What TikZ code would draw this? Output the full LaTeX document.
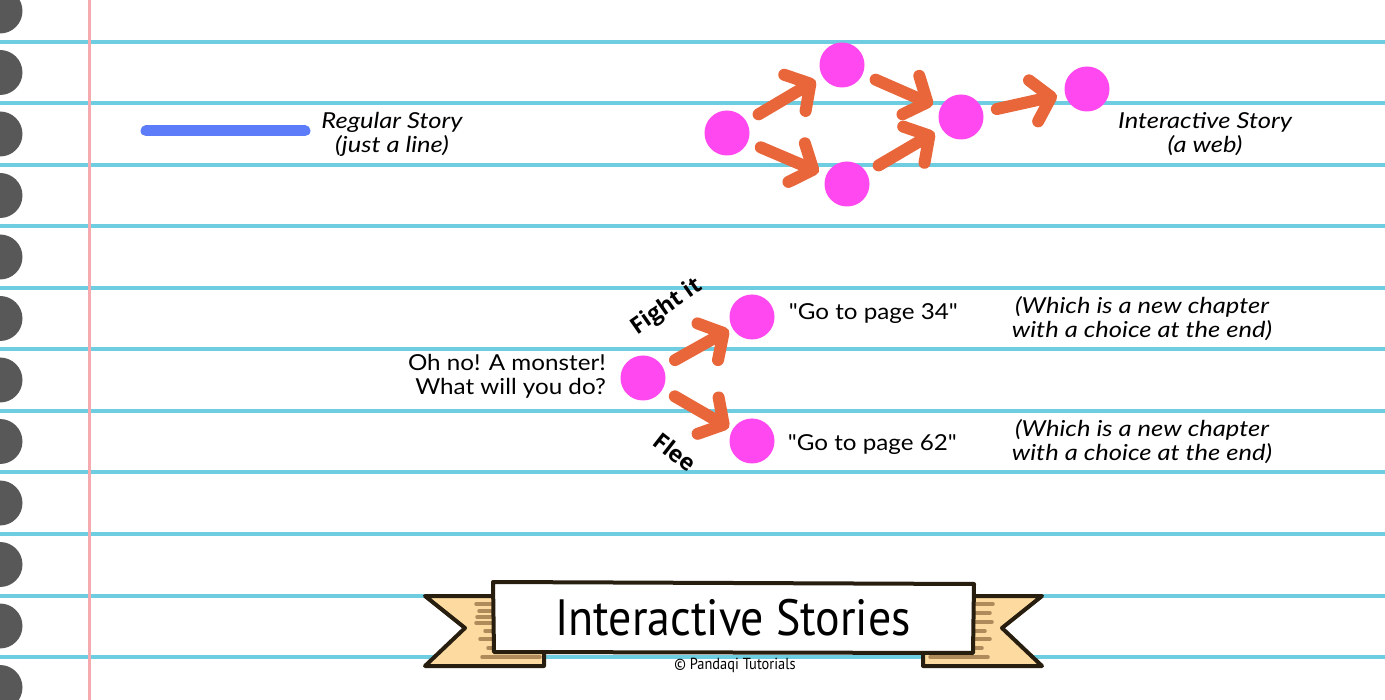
\documentclass[tikz,border=0pt]{standalone}
\usepackage{fontspec}
\setmainfont{Lato}[Ligatures=TeXOff,UprightFeatures={FakeStretch=1.1},ItalicFeatures={FakeStretch=1.16}]
\newfontfamily\titlefont{PT Sans}[FakeStretch=0.9]
\newfontfamily\choicefont{Open Sans}
\usetikzlibrary{arrows.meta,positioning}

\definecolor{ruleblue}{RGB}{110,205,224}
\definecolor{marginred}{RGB}{245,170,175}
\definecolor{holegrey}{RGB}{88,88,88}
\definecolor{dotpink}{RGB}{255,72,240}
\definecolor{arroworange}{RGB}{232,102,58}
\definecolor{lineblue}{RGB}{92,124,250}
\definecolor{bannerbrown}{RGB}{40,30,15}
\definecolor{ribbon}{RGB}{253,218,160}
\definecolor{ribbonstripe}{RGB}{175,138,90}

\tikzset{
  ruleline/.style={draw=ruleblue,line width=4pt},
  marginline/.style={draw=marginred,line width=3pt},
  storydot/.style={circle,fill=dotpink,minimum size=45pt,inner sep=0pt},
  storyarrow/.style={draw=arroworange,line width=12pt,line cap=round,
    -{Straight Barb[length=18pt,width=42pt,round]},shorten <=14pt,shorten >=8pt},
  notetext/.style={font=\fontsize{22}{24}\selectfont\itshape,align=center,inner sep=0pt},
  plaintext/.style={font=\fontsize{22}{24}\selectfont,inner sep=0pt},
  choicetext/.style={font=\fontsize{23}{25}\selectfont\choicefont\bfseries,inner sep=0pt},
  bannerline/.style={draw=bannerbrown,line width=4pt,line join=round},
  stripe/.style={draw=ribbonstripe,line width=3.5pt,line cap=round}
}

\begin{document}
\begin{tikzpicture}[x=1pt,y=-1pt]
\useasboundingbox (0,0) rectangle (1385,700);
\fill[white] (0,0) rectangle (1385,700);

% paper
\foreach \k in {0,...,10}
  \draw[ruleline] (0,{42+61.5*\k}) -- (1385,{42+61.5*\k});
\draw[marginline] (89,0) -- (89,700);
\foreach \k in {0,...,11}
  \fill[holegrey] (0,{11+61.5*\k}) circle (22.5pt);

% regular story
\draw[draw=lineblue,line width=11pt,line cap=round] (146,131) -- (305,131);
\node[notetext] at (392,134.5) (regular) {Regular Story\\(just a line)};

% interactive story
\node[storydot] at (727,133) (w1) {};
\node[storydot] at (842,65) (w2) {};
\node[storydot] at (847,184) (w3) {};
\node[storydot] at (961,117) (w4) {};
\node[storydot] at (1087,89) (w5) {};
\draw[storyarrow] (w1) -- (w2);
\draw[storyarrow] (w1) -- (w3);
\draw[storyarrow] (w2) -- (w4);
\draw[storyarrow] (w3) -- (w4);
\draw[storyarrow] (w4) -- (w5);
\node[notetext] at (1205,134.5) (interactive) {Interactive Story\\(a web)};

% the choice
\node[storydot] at (643,378) (monster) {};
\node[storydot] at (752,317) (fight) {};
\node[storydot] at (752,441) (flee) {};
\draw[storyarrow,shorten >=4pt] (monster) -- (fight);
\draw[storyarrow,shorten >=4pt] (monster) -- (flee);
\node[choicetext,rotate=35] at (667,307) (fightlabel) {Fight it};
\node[choicetext,rotate=-38] at (675,452) (fleelabel) {Flee};
\node[plaintext,align=right,anchor=east] at (606,376) (question) {Oh no! A monster!\\What will you do?};
\node[plaintext,right=14pt of fight,yshift=3pt] (page34) {"Go to page 34"};
\node[plaintext,right=13pt of flee,yshift=-4pt] (page62) {"Go to page 62"};
\node[notetext] at (1142,319) (chapter34) {(Which is a new chapter\\with a choice at the end)};
\node[notetext] at (1142,442) (chapter62) {(Which is a new chapter\\with a choice at the end)};

% banner
\draw[bannerline,fill=ribbon] (500,596) -- (425,596) -- (465,628) -- (425,666) -- (544,666) -- (544,640) -- cycle;
\draw[bannerline,fill=ribbon] (966,596) -- (1042,596) -- (1002,628) -- (1042,666) -- (923,666) -- (923,640) -- cycle;
\foreach \y/\x in {604/476,611/479,617/477,623/476,631/485,639/480,648/488}
  \draw[stripe] (\x,\y) -- (500,\y);
\draw[stripe] (482,657) -- (540,657);
\foreach \y/\x in {604/993,613/990,622/992,631/985,639/990,648/982}
  \draw[stripe] (966,\y) -- (\x,\y);
\draw[stripe] (930,657) -- (988,657);
\draw[bannerline,fill=white] (493,582) -- (974,584) -- (973,653) -- (494,652) -- cycle;
\node[font=\fontsize{51}{51}\selectfont\titlefont,inner sep=0pt] at (733,618) (title) {Interactive Stories};
\node[font=\fontsize{16}{16}\selectfont\titlefont,inner sep=0pt] at (735,665) (credit) {© Pandaqi Tutorials};
\end{tikzpicture}
\end{document}
